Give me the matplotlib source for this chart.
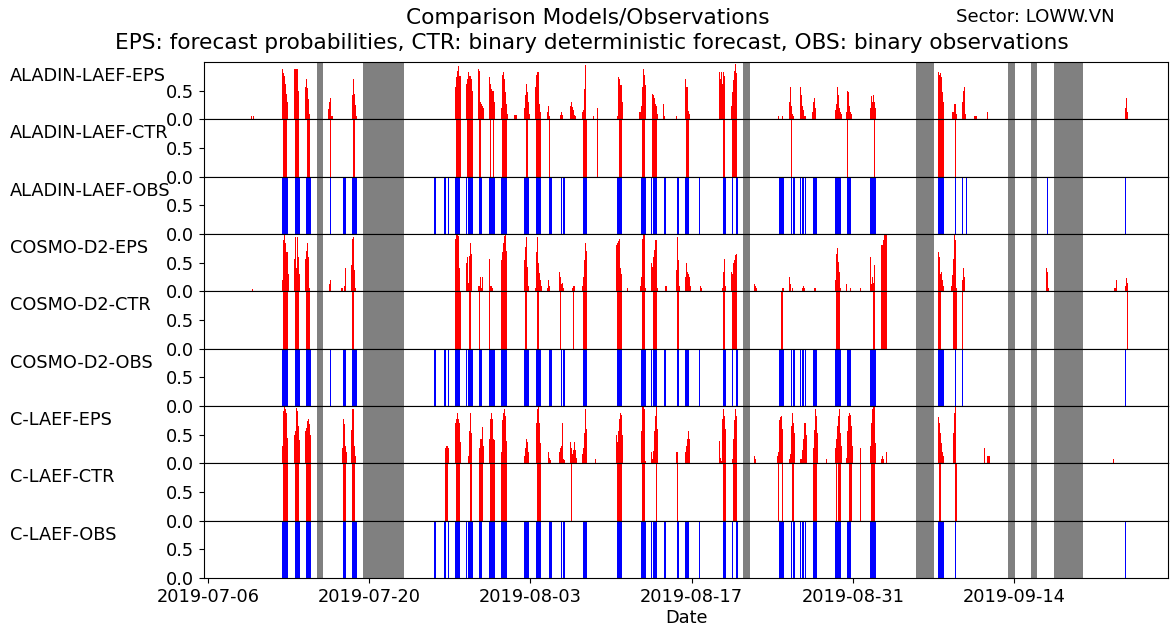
import numpy as np
import matplotlib
matplotlib.use("Agg")
import matplotlib.pyplot as plt
import matplotlib.dates as mdates
import matplotlib.transforms as mtransforms

# time axis: days counted from 2019-07-06 00:00, EPS values every 2 hours
start_date = "2019-07-06"
step_hours = 2
tick_dates = ["2019-07-06", "2019-07-20", "2019-08-03", "2019-08-17", "2019-08-31", "2019-09-14"]

# periods without model data (grey)
missing = [(9.44, 10.01), (13.44, 17.02), (46.44, 47.07), (61.46, 63.03),
           (69.45, 70.09), (71.48, 72.00), (73.45, 76.00)]

# EPS probabilities: (start day, values every 2 h)
aladin_eps = [
    (3.70, [0.06, 0.0, 0.06]),
    (6.40, [0.87, 0.80, 0.76, 0.62, 0.45, 0.30, 0.25]),
    (7.47, [0.87, 0.87, 0.87, 0.87, 0.50]),
    (8.45, [0.56, 0.70, 0.55, 0.36, 0.10]),
    (10.42, [0.18, 0.30, 0.38, 0.05, 0.06]),
    (12.48, [0.43, 0.70, 0.45, 0.25, 0.05]),
    (21.45, [0.56, 0.74, 0.85, 0.93, 0.76, 0.76]),
    (22.41, [0.62, 0.71, 0.83, 0.76, 0.76, 0.70, 0.50]),
    (23.48, [0.87, 0.85, 0.30, 0.26, 0.24, 0.20]),
    (24.43, [0.74, 0.62, 0.53, 0.49, 0.49, 0.30]),
    (25.45, [0.19, 0.77, 0.83, 0.71, 0.48, 0.26, 0.10]),
    (26.58, [0.07, 0.07, 0.07]),
    (27.47, [0.19, 0.43, 0.62, 0.48, 0.30, 0.10]),
    (28.43, [0.56, 0.77, 0.83, 0.83, 0.26, 0.13]),
    (29.40, [0.13, 0.37, 0.24, 0.05]),
    (30.57, [0.08, 0.13, 0.08]),
    (31.44, [0.24, 0.30, 0.22, 0.16, 0.07, 0.05]),
    (32.45, [0.12, 0.16, 0.53, 0.94, 0.60]),
    (33.47, [0.06]),
    (33.82, [0.19]),
    (35.50, [0.06, 0.74, 0.70, 0.60, 0.60, 0.30]),
    (37.46, [0.13, 0.13, 0.24, 0.56, 0.87, 0.77, 0.60]),
    (38.53, [0.45, 0.42, 0.37, 0.26, 0.40, 0.24, 0.10]),
    (39.55, [0.26, 0.06]),
    (40.65, [0.06]),
    (41.43, [0.70, 0.56, 0.56, 0.15, 0.10]),
    (44.41, [0.83, 0.70, 0.83, 0.62, 0.83, 0.75]),
    (45.42, [0.24, 0.48, 0.68, 0.85, 0.97, 0.80]),
    (49.53, [0.06, 0.0, 0.0, 0.0, 0.06]),
    (50.46, [0.31, 0.56, 0.24, 0.10, 0.05]),
    (51.42, [0.56, 0.43, 0.24, 0.16, 0.06, 0.05]),
    (52.43, [0.13, 0.30, 0.37, 0.20, 0.07]),
    (54.46, [0.16, 0.26, 0.56, 0.42, 0.19, 0.13, 0.10]),
    (55.41, [0.13, 0.50, 0.48, 0.24, 0.13, 0.10]),
    (57.50, [0.19, 0.40, 0.30, 0.43, 0.30, 0.20]),
    (63.43, [0.83, 0.77, 0.80, 0.74, 0.48, 0.30]),
    (64.62, [0.13, 0.13, 0.26, 0.26, 0.10]),
    (65.51, [0.30, 0.50, 0.56, 0.10]),
    (66.55, [0.06, 0.06, 0.06]),
    (67.69, [0.13]),
    (79.64, [0.19, 0.37, 0.12]),
]

cosmo_eps = [
    (3.82, [0.04]),
    (6.43, [0.19, 0.90, 0.98, 0.84, 0.69, 0.69, 0.30]),
    (7.50, [0.56, 0.95, 0.40, 0.94, 0.60, 0.30]),
    (8.45, [0.56, 0.70, 0.85, 0.60, 0.05]),
    (10.48, [0.13, 0.20]),
    (11.52, [0.05, 0.05, 0.0, 0.10, 0.40]),
    (12.45, [0.46, 0.91, 0.95, 0.37, 0.05]),
    (21.45, [0.92, 1.0, 0.98, 0.97, 0.40]),
    (22.41, [0.50, 0.60, 0.15, 0.62, 0.85, 0.65]),
    (23.48, [0.10, 0.10, 0.25, 0.05, 0.25]),
    (24.43, [0.56, 0.10, 0.10, 0.05]),
    (25.45, [0.54, 0.69, 0.84, 0.97, 0.98, 0.70]),
    (27.47, [0.54, 0.78, 0.95, 0.43, 0.10]),
    (28.43, [0.05, 0.69, 0.94, 0.49, 0.32, 0.19, 0.10]),
    (29.40, [0.05, 0.40, 0.19, 0.10]),
    (30.51, [0.34, 0.25, 0.13, 0.15, 0.05]),
    (31.65, [0.05, 0.10, 0.10]),
    (32.45, [0.10, 0.25, 0.54, 0.84, 0.98, 0.70]),
    (35.41, [0.80, 0.84, 0.87, 0.91, 0.40, 0.30]),
    (36.42, [0.05]),
    (37.52, [0.10, 0.25, 0.91, 1.0, 1.0, 0.05]),
    (38.47, [0.49, 0.43, 0.60, 0.72, 0.89, 0.90, 0.05]),
    (39.72, [0.10, 0.10]),
    (40.65, [0.37, 0.95, 0.54, 0.10]),
    (41.43, [0.25, 0.50, 0.34, 0.30, 0.25, 0.10]),
    (42.73, [0.10, 0.05]),
    (44.64, [0.05, 0.34, 0.56, 0.10]),
    (45.42, [0.34, 0.30, 0.50, 0.54, 0.63, 0.65]),
    (47.42, [0.13, 0.10, 0.05]),
    (49.82, [0.05, 0.05]),
    (50.46, [0.25, 0.13, 0.0, 0.05]),
    (51.59, [0.05, 0.10, 0.05]),
    (52.60, [0.05, 0.05]),
    (54.48, [0.20, 0.65, 0.75, 0.51, 0.34, 0.05]),
    (55.41, [0.13, 0.0, 0.0, 0.0, 0.05]),
    (56.65, [0.05]),
    (57.50, [0.60, 0.13, 0.25, 0.15, 0.46]),
    (58.45, [0.80, 0.80, 0.90, 1.0, 1.0, 1.0]),
    (63.43, [0.69, 0.60, 0.31, 0.34, 0.19, 0.10]),
    (64.53, [0.10, 0.28, 0.56, 1.0, 0.90, 0.05]),
    (65.49, [0.19, 0.40, 0.25]),
    (72.78, [0.40, 0.34, 0.05]),
    (78.69, [0.05, 0.05, 0.20]),
    (79.64, [0.10, 0.24, 0.15]),
]

claef_eps = [
    (6.43, [0.30, 0.91, 0.99, 0.94, 0.88, 0.45]),
    (7.50, [0.50, 0.56, 0.97, 0.91, 0.65, 0.40]),
    (8.45, [0.56, 0.62, 0.74, 0.77, 0.68, 0.50]),
    (11.61, [0.26, 0.77, 0.68, 0.30, 0.20]),
    (12.45, [0.59, 0.94, 0.95, 0.30, 0.13]),
    (20.58, [0.26, 0.30, 0.30, 0.26]),
    (21.45, [0.71, 0.77, 0.88, 0.77, 0.70, 0.37]),
    (22.55, [0.13, 0.56, 0.88, 0.53, 0.43]),
    (23.51, [0.26, 0.43, 0.43, 0.64, 0.30]),
    (24.43, [0.43, 0.77, 0.88, 0.77, 0.43, 0.40]),
    (25.45, [0.19, 0.76, 0.88, 0.94, 0.83, 0.39]),
    (27.47, [0.13, 0.26, 0.43, 0.37, 0.20]),
    (28.46, [0.70, 0.94, 0.99, 0.71, 0.36]),
    (29.56, [0.19, 0.10, 0.05]),
    (30.46, [0.19, 0.26, 0.30, 0.70, 0.08, 0.05]),
    (31.44, [0.37, 0.26, 0.16, 0.24, 0.37, 0.24, 0.10]),
    (32.45, [0.16, 0.26, 0.53, 0.94, 1.0, 0.60]),
    (33.64, [0.07]),
    (35.43, [0.50, 0.37, 0.56, 0.77, 0.88, 0.85, 0.50]),
    (37.60, [0.56, 0.99, 1.0, 0.94, 0.04]),
    (38.47, [0.19, 0.07, 0.22, 0.56, 0.83, 1.0, 0.60]),
    (40.65, [0.20, 0.19]),
    (41.43, [0.19, 0.30, 0.43, 0.56, 0.43]),
    (44.41, [0.39, 0.10, 0.04, 0.77, 0.94, 0.83, 0.60]),
    (45.48, [0.08, 0.43, 0.76, 0.94, 0.97, 0.83]),
    (47.42, [0.13, 0.08]),
    (49.45, [0.13, 0.20, 0.76, 0.80, 0.83, 0.60]),
    (50.46, [0.07, 0.16, 0.65, 0.88, 0.70, 0.53]),
    (51.42, [0.07, 0.07, 0.24, 0.42, 0.70, 0.70, 0.50]),
    (52.52, [0.26, 0.59, 0.94, 0.83, 0.53]),
    (53.67, [0.07]),
    (54.46, [0.26, 0.42, 0.65, 0.83, 0.94, 0.53, 0.30]),
    (55.44, [0.10, 0.56, 0.83, 0.88, 0.85, 0.65, 0.30]),
    (56.65, [0.26]),
    (57.50, [0.30, 0.71, 0.94, 1.0, 0.99, 0.36]),
    (58.45, [0.08, 0.13, 0.07, 0.0, 0.0, 0.20]),
    (63.43, [0.80, 0.70, 0.53, 0.36, 0.20, 0.13]),
    (64.73, [0.53, 0.88, 1.0]),
    (67.40, [0.26, 0.0, 0.0, 0.13, 0.13, 0.13]),
    (78.63, [0.07]),
]

# binary control forecasts: (start day, end day)
aladin_ctr = [
    (6.54, 6.89), (7.56, 7.93), (8.57, 8.86), (10.57, 10.64), (12.57, 12.80),
    (21.51, 21.95), (22.47, 22.99), (23.54, 23.71), (24.49, 24.55), (24.78, 24.86),
    (25.51, 25.94), (27.59, 27.77), (28.49, 28.89), (29.64, 29.68), (32.60, 32.89),
    (33.81, 33.85), (35.67, 35.96), (37.72, 37.95), (38.59, 38.97), (41.49, 41.80),
    (44.46, 44.50), (44.75, 44.90), (45.51, 45.97), (50.63, 50.68), (51.66, 51.70),
    (54.78, 54.82), (55.52, 55.56), (57.82, 57.90), (63.43, 63.92), (64.90, 64.94),
]

cosmo_ctr = [
    (6.54, 6.92), (7.56, 7.93), (8.51, 8.86), (12.48, 12.68), (21.48, 21.95),
    (22.45, 22.49), (22.66, 22.86), (23.55, 23.59), (24.44, 24.48), (25.48, 25.94),
    (27.56, 27.68), (28.55, 28.78), (30.58, 30.62), (31.71, 31.75), (32.60, 32.94),
    (35.55, 35.98), (37.69, 37.95), (38.47, 38.51), (38.68, 38.97), (40.76, 40.90),
    (41.49, 41.53), (44.75, 44.90), (45.48, 45.97), (49.73, 49.93), (54.52, 54.89),
    (57.48, 57.52), (57.73, 57.90), (58.45, 58.94), (63.43, 63.66), (64.68, 65.02),
    (65.51, 65.60), (79.79, 79.88),
]

claef_ctr = [
    (6.54, 6.92), (7.56, 7.93), (8.51, 8.92), (11.72, 11.99), (12.51, 12.80),
    (20.62, 20.87), (21.50, 21.85), (22.72, 22.96), (23.55, 23.75), (23.82, 23.86),
    (24.47, 24.90), (25.48, 25.94), (28.55, 28.89), (30.79, 30.83), (31.53, 31.61),
    (35.50, 35.93), (37.72, 37.95), (38.88, 39.00), (40.74, 40.78), (44.75, 44.99),
    (45.62, 45.97), (47.47, 47.53), (49.53, 49.60), (49.82, 49.96), (50.75, 50.92),
    (52.57, 52.92), (54.52, 54.60), (54.74, 54.95), (55.64, 55.90), (56.63, 56.67),
    (57.55, 57.96), (58.43, 58.47), (58.87, 58.91), (63.49, 63.63), (64.88, 65.02),
]

# binary observations: (start day, end day)
aladin_obs = [
    (6.45, 6.49), (6.54, 6.92), (7.53, 7.99), (8.48, 8.95), (10.57, 10.66),
    (11.72, 11.99), (12.51, 12.91), (19.60, 19.79), (20.53, 20.64), (20.80, 20.90),
    (21.45, 21.89), (22.41, 22.52), (22.62, 22.99), (23.49, 23.81), (23.86, 23.90),
    (24.44, 24.94), (25.45, 25.97), (27.47, 27.91), (28.46, 28.95), (29.59, 29.88),
    (30.66, 30.77), (30.86, 30.98), (32.57, 32.92), (35.52, 35.98), (37.63, 38.01),
    (38.47, 38.59), (38.68, 39.02), (39.60, 39.81), (40.70, 40.93), (41.43, 41.80),
    (42.67, 42.71), (44.73, 44.96), (45.55, 45.59), (45.83, 46.03), (49.55, 50.03),
    (50.63, 50.68), (50.80, 50.95), (51.44, 51.50), (51.60, 51.76), (51.82, 51.94),
    (52.52, 52.89), (54.46, 54.98), (55.50, 55.82), (57.47, 58.02), (58.43, 58.47),
    (58.78, 58.82), (63.43, 63.95), (64.90, 64.94), (65.51, 65.60), (65.86, 65.90),
    (72.88, 72.92), (79.65, 79.69),
]

cosmo_obs = [
    (6.45, 6.49), (6.54, 6.92), (7.53, 7.99), (8.48, 8.95), (10.57, 10.66),
    (11.72, 11.99), (12.51, 12.91), (19.60, 19.79), (20.53, 20.64), (20.80, 20.90),
    (21.45, 21.89), (22.41, 22.52), (22.62, 22.99), (23.49, 23.81), (23.86, 23.90),
    (24.44, 24.94), (25.45, 25.97), (27.47, 27.91), (28.46, 28.95), (29.59, 29.88),
    (30.66, 30.77), (30.86, 30.98), (32.57, 32.92), (35.52, 35.98), (37.63, 38.01),
    (38.47, 38.59), (38.68, 39.02), (39.60, 39.81), (40.70, 40.93), (41.43, 41.80),
    (42.67, 42.71), (44.73, 44.96), (45.55, 45.59), (45.83, 46.03), (49.55, 50.03),
    (50.63, 50.68), (50.80, 50.95), (51.44, 51.50), (51.60, 51.76), (51.82, 51.94),
    (52.52, 52.89), (54.46, 54.98), (55.50, 55.82), (57.47, 58.02),
    (63.43, 63.95), (64.90, 64.94), (65.51, 65.60), (79.65, 79.69),
]

claef_obs = [
    (6.45, 6.49), (6.54, 6.92), (7.53, 7.99), (8.48, 8.95),
    (11.72, 11.99), (12.51, 12.91), (19.60, 19.79), (20.53, 20.64), (20.80, 20.90),
    (21.45, 21.89), (22.41, 22.52), (22.62, 22.99), (23.49, 23.81), (23.86, 23.90),
    (24.44, 24.94), (25.45, 25.97), (27.47, 27.91), (28.46, 28.95), (29.59, 29.88),
    (30.66, 30.77), (30.86, 30.98), (32.57, 32.92), (35.52, 35.98), (37.63, 38.01),
    (38.47, 38.59), (38.68, 39.02), (39.60, 39.81), (40.70, 40.93), (41.43, 41.80),
    (42.67, 42.71), (44.73, 44.96), (45.55, 45.59), (45.83, 46.03), (49.55, 50.03),
    (50.63, 50.68), (50.80, 50.95), (51.44, 51.50), (51.60, 51.76), (51.82, 51.94),
    (52.52, 52.89), (54.46, 54.98), (55.50, 55.82), (57.47, 58.02),
    (63.43, 63.95), (64.90, 64.94), (79.65, 79.69),
]

panels = [
    ("ALADIN-LAEF-EPS", "eps", aladin_eps),
    ("ALADIN-LAEF-CTR", "ctr", aladin_ctr),
    ("ALADIN-LAEF-OBS", "obs", aladin_obs),
    ("COSMO-D2-EPS", "eps", cosmo_eps),
    ("COSMO-D2-CTR", "ctr", cosmo_ctr),
    ("COSMO-D2-OBS", "obs", cosmo_obs),
    ("C-LAEF-EPS", "eps", claef_eps),
    ("C-LAEF-CTR", "ctr", claef_ctr),
    ("C-LAEF-OBS", "obs", claef_obs),
]

base = mdates.datestr2num(start_date)
step = step_hours / 24.0
fs = 12.8

fig, axes = plt.subplots(9, 1, sharex=True, figsize=(11.7, 6.28), dpi=100)
fig.subplots_adjust(left=0.1744, right=0.9983, top=0.9013, bottom=0.0796, hspace=0)

for ax, (name, kind, data) in zip(axes, panels):
    for a, b in missing:
        ax.axvspan(base + a, base + b, color="gray", lw=0)
    if kind == "eps":
        for t0, vals in data:
            x = base + t0 + step * np.arange(len(vals))
            ax.bar(x, vals, width=step, align="edge", color="red", lw=0)
    else:
        col = "red" if kind == "ctr" else "blue"
        for a, b in data:
            ax.bar(base + a, 1, width=b - a, align="edge", color=col, lw=0)
    ax.set_ylim(0, 1)
    ax.set_yticks([0, 0.5])
    ax.set_yticklabels(["0.0", "0.5"], fontsize=fs)
    trans = mtransforms.blended_transform_factory(fig.transFigure, ax.transAxes)
    ax.text(10 / 1170, 0.755, name, transform=trans, ha="left", va="center", fontsize=fs)
    ax.tick_params(axis="x", bottom=False)

ax = axes[-1]
ax.tick_params(axis="x", bottom=True, labelsize=fs)
ax.set_xlim(base - 0.35, base + 83.38)
ax.xaxis.set_major_locator(plt.FixedLocator([mdates.datestr2num(d) for d in tick_dates]))
ax.xaxis.set_major_formatter(mdates.DateFormatter("%Y-%m-%d"))
ax.set_xlabel("Date", fontsize=fs, labelpad=2)

# two-line title, written as two texts
fig.text(0.5026, 1 - 18 / 628, "Comparison Models/Observations",
         ha="center", va="center", fontsize=15.6)
fig.text(0.5056, 1 - 43 / 628, "EPS: forecast probabilities, CTR: binary "
         "deterministic forecast, OBS: binary observations",
         ha="center", va="center", fontsize=15.6)
fig.text(1115 / 1170, 1 - 17 / 628, "Sector: LOWW.VN", ha="right", va="center", fontsize=13.1)

fig.savefig("out.png", dpi=100)
